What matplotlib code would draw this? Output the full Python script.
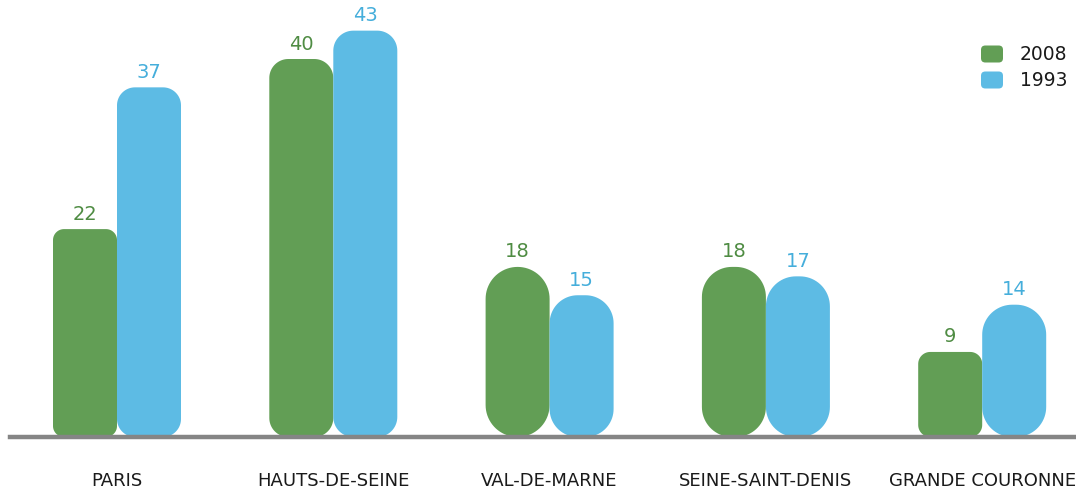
import matplotlib
matplotlib.use("Agg")
import numpy as np
import matplotlib.pyplot as plt
from matplotlib.patches import Polygon, FancyBboxPatch

# data
departements = ["PARIS", "HAUTS-DE-SEINE", "VAL-DE-MARNE",
                "SEINE-SAINT-DENIS", "GRANDE COURONNE"]
valeurs_2008 = [22, 40, 18, 18, 9]
valeurs_1993 = [37, 43, 15, 17, 14]
annees = ["2008", "1993"]

# style
VERT = "#629e55"
BLEU = "#5dbbe4"
VERT_TXT = "#4f8c43"
BLEU_TXT = "#45aedb"
# corner radius of each bar, in pixels
RAYONS_2008 = [11, 19, 32, 30, 12]
RAYONS_1993 = [18, 20, 28, 30, 30]

W, H, DPI = 1076, 491, 100
PX_X = 216.3        # pixels per category
PX_Y = 9.45         # pixels per unit
BASE = 54           # baseline, pixels from bottom
largeur = 64 / PX_X

fig = plt.figure(figsize=(W / DPI, H / DPI), dpi=DPI)
ax = fig.add_axes([0, BASE / H, 1, (H - BASE) / H])
ax.set_xlim(-117 / PX_X, (W - 117) / PX_X)
ax.set_ylim(0, (H - BASE) / PX_Y)
for s in ax.spines.values():
    s.set_visible(False)
ax.set_yticks([])


def barre(x0, h, couleur, r_px):
    # rectangle with circular corners, radius given in pixels
    rx, ry = r_px / PX_X, r_px / PX_Y
    ry = min(ry, h / 2)
    t = np.linspace(0, np.pi / 2, 20)
    x1 = x0 + largeur
    coins = [
        (x1 - rx, h - ry, t),
        (x0 + rx, h - ry, t + np.pi / 2),
        (x0 + rx, ry, t + np.pi),
        (x1 - rx, ry, t + 3 * np.pi / 2),
    ]
    pts = []
    for cx, cy, a in coins:
        pts.append(np.column_stack([cx + rx * np.cos(a), cy + ry * np.sin(a)]))
    p = Polygon(np.vstack(pts), closed=True, fc=couleur, ec="none",
                clip_on=False, zorder=2)
    ax.add_patch(p)


decal = 15 / PX_Y
for i, (a, b) in enumerate(zip(valeurs_2008, valeurs_1993)):
    barre(i - largeur, a, VERT, RAYONS_2008[i])
    barre(i, b, BLEU, RAYONS_1993[i])
    ax.text(i - largeur / 2, a + decal, str(a), ha="center", va="center",
            color=VERT_TXT, fontsize=14)
    ax.text(i + largeur / 2, b + decal, str(b), ha="center", va="center",
            color=BLEU_TXT, fontsize=14)

ax.axhline(0, xmin=10 / W, xmax=1, color="#858585", lw=3.2, zorder=3,
           clip_on=False)

ax.set_xticks(range(len(departements)))
ax.set_xticklabels(departements, fontsize=13, color="#1a1a1a")
ax.tick_params(axis="x", length=0, pad=25)

# legend
for k, (nom, c) in enumerate(zip(annees, [VERT, BLEU])):
    y_px = H - 54 - 26 * k
    sq = FancyBboxPatch((981 / W, (y_px - 8.5) / H), 22 / W, 17 / H,
                        boxstyle="round,pad=0,rounding_size=0.004",
                        mutation_aspect=W / H, fc=c, ec="none",
                        transform=fig.transFigure)
    fig.patches.append(sq)
    fig.text(1020 / W, y_px / H, nom, fontsize=13.5, va="center",
             color="#1a1a1a")

fig.savefig("out.png", dpi=DPI)
